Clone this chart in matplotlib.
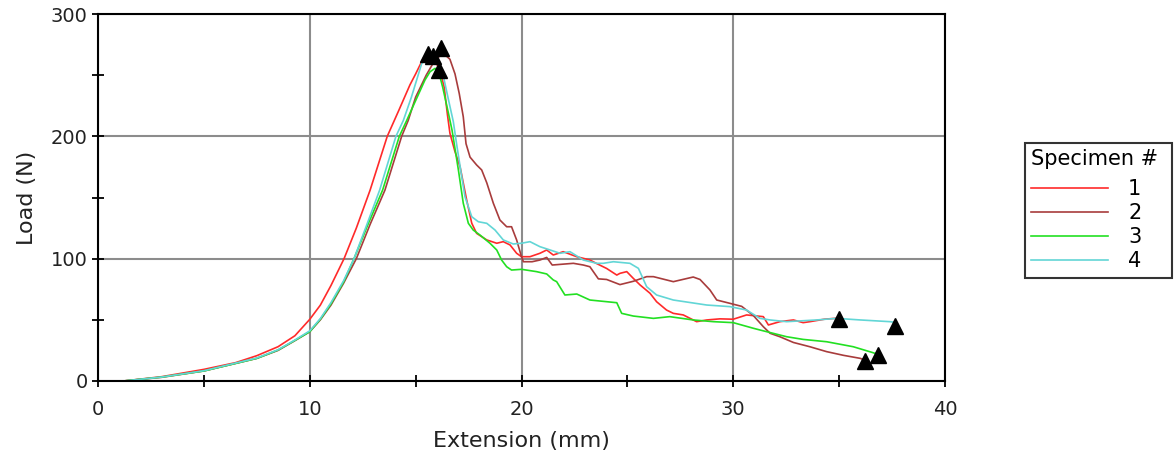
import numpy as np
import matplotlib
matplotlib.use('Agg')
import matplotlib.pyplot as plt
from matplotlib.ticker import MultipleLocator

# load-extension curves per specimen (mm, N)
ext1 = [1.2, 3, 5, 6.5, 7.5, 8.5, 9.3, 10, 10.5, 11, 11.62, 12.2, 12.85, 13.66, 14.2,
        14.73, 15.0, 15.36, 15.59, 15.9, 16.15, 16.35, 16.5, 16.62, 16.85, 17.1, 17.41, 17.65, 17.88,
        18.36, 18.83, 19.14, 19.46, 19.77, 20.0, 20.4, 20.87, 21.19, 21.5, 21.97, 22.61, 23.23, 23.55,
        24.02, 24.5, 24.65, 24.97, 25.28, 25.6, 26.07, 26.38, 26.85, 27.17, 27.64, 28.27, 28.75, 29.37,
        30.0, 30.63, 31.42, 31.66, 32.2, 32.84, 33.3, 33.62, 34.3, 35.0]
load1 = [0, 3.5, 9.5, 15, 20.7, 28, 37, 50.4, 62, 78, 100, 125, 156, 200, 221,
         242, 251, 263.7, 267, 262, 254, 240, 218, 202.5, 188, 175, 148, 129, 120.7,
         115.3, 112.6, 113.9, 111.2, 104.4, 101.6, 101.6, 104.4, 107.1, 103, 105.7, 101.6, 98.9, 96,
         92, 86.6, 88.0, 89.4, 83.9, 78.5, 71.7, 64.8, 58.0, 55.3, 54.0, 48.5, 49.9, 50.8,
         50.5, 54.0, 52.6, 45.8, 48.5, 49.9, 47.7, 48.5, 50.5, 51.5]

ext2 = [1.2, 3, 5, 7.5, 8.5, 9.3, 10, 10.5, 11, 11.6, 12.2, 12.85, 13.55, 14.34, 14.65, 15.0,
        15.5, 15.9, 16.3, 16.62, 16.86, 17.06, 17.25, 17.38, 17.57, 17.88, 18.12, 18.36, 18.67, 18.98,
        19.3, 19.53, 19.77, 20.0, 20.09, 20.5, 20.87, 21.19, 21.45, 22.45, 22.92, 23.23, 23.63, 24.02,
        24.65, 25.28, 25.91, 26.23, 27.17, 28.11, 28.43, 28.9, 29.22, 29.84, 30.4, 30.95, 31.42, 31.74,
        32.2, 32.84, 33.62, 34.41, 35.2, 36.0, 36.22]
load2 = [0, 3.0, 8.2, 18.5, 25, 33, 40.3, 50, 62, 80, 100, 128, 156, 200, 213, 232,
         250, 262, 268, 263, 251, 235, 216, 194, 183, 176.6, 172.5, 162, 145.3, 131.6,
         126.1, 126.1, 115.3, 101.6, 97.5, 97.5, 98.9, 101, 94.8, 96.2, 94.8, 93.4, 83.5, 83,
         78.8, 81.5, 85.3, 85.3, 81.2, 85, 83, 74.4, 66.2, 63.5, 61, 53.5, 44.4, 39.0,
         36.2, 31.5, 28.0, 24.0, 21, 18.5, 17]

ext3 = [1.2, 3, 5, 7.5, 8.5, 9.3, 10, 10.5, 11, 11.6, 12.09, 12.75, 13.44, 14.23, 14.58, 14.89,
        15.44, 15.68, 15.92, 16.1, 16.28, 16.55, 16.72, 17.02, 17.25, 17.49, 17.72, 18.04, 18.51, 18.83,
        19.06, 19.3, 19.53, 20.0, 20.71, 21.19, 21.5, 21.66, 22.05, 22.61, 23.23, 24.5, 24.73, 25.28,
        26.23, 27.0, 28.11, 29.06, 30.0, 30.95, 31.26, 32.52, 33.3, 34.41, 35.67, 36.61, 36.85]
load3 = [0, 3.2, 8.2, 18.5, 25.3, 33.2, 40.3, 50.5, 63, 81, 100, 128, 156, 200, 213, 225,
         246, 252.8, 255.6, 252, 240, 218.8, 205, 172.5, 145.3, 128.9, 123.4, 119.3, 112.6, 107.1,
         98.9, 93.4, 90.7, 91.3, 89.4, 87.5, 82.6, 81.2, 70.3, 71.1, 66.2, 64.0, 55.3, 53.1,
         51.2, 52.6, 49.9, 48.5, 47.7, 43.1, 41.7, 36.2, 34, 32.1, 28.0, 23.1, 21.5]

ext4 = [1.2, 3, 5, 7.5, 8.5, 9.3, 10, 10.5, 11, 11.6, 12.09, 12.7, 13.3, 14.07, 14.42, 14.8,
        15.29, 15.55, 15.82, 16.1, 16.3, 16.55, 16.78, 16.95, 17.15, 17.33, 17.65, 17.96, 18.36, 18.75,
        19.14, 19.61, 20.0, 20.4, 20.87, 21.35, 21.82, 22.29, 22.92, 23.55, 23.86, 24.34, 25.12, 25.52,
        25.91, 26.38, 27.17, 28.75, 29.84, 30.63, 31.26, 31.74, 32.52, 33.94, 34.88, 36.0, 37.4, 37.6]
load4 = [0, 3.2, 8.4, 18.8, 25.5, 33.5, 41, 51, 64, 82, 100, 128, 156, 200, 213, 232,
         259.7, 264, 265.7, 262, 250, 230, 212, 192, 170, 150.7, 134.3, 130.2, 128.9, 123.4,
         115.3, 112, 112.6, 113.9, 109.8, 107.1, 104.4, 105.7, 98.9, 96.2, 96.2, 97.5, 96.2, 92.1,
         77.1, 70.3, 66.2, 62.1, 60.8, 58.0, 51.2, 49.9, 48.5, 49.9, 51.2, 49.9, 48.5, 48]

# peak and break markers
peak_x = [15.59, 16.22, 16.1, 15.82]
peak_y = [267.3, 271.8, 254.2, 265.7]
break_x = [35.0, 36.22, 36.85, 37.64]
break_y = [50.4, 16.3, 21.3, 45.2]

labels = ['1', '2', '3', '4']
colors = ['#ff2a2a', '#a83c3c', '#22e022', '#62d6d6']

fig = plt.figure(figsize=(11.75, 4.67), dpi=100)
ax = fig.add_axes([98 / 1175, 1 - 381 / 467, 847 / 1175, 367 / 467])

curves = [(ext1, load1), (ext2, load2), (ext3, load3), (ext4, load4)]
for (x, y), c, lab in zip(curves, colors, labels):
    ax.plot(x, y, color=c, lw=1.2, label=lab)

ax.plot(peak_x, peak_y, '^', color='black', ms=11, ls='none')
ax.plot(break_x, break_y, '^', color='black', ms=11, ls='none')

ax.set_xlim(0, 40)
ax.set_ylim(0, 300)
ax.xaxis.set_major_locator(MultipleLocator(10))
ax.xaxis.set_minor_locator(MultipleLocator(5))
ax.yaxis.set_major_locator(MultipleLocator(100))
ax.yaxis.set_minor_locator(MultipleLocator(50))
ax.grid(True, which='major', color='#8c8c8c', lw=1.5)
ax.set_axisbelow(True)
ax.tick_params(which='both', direction='inout', length=9, width=1.3, color='black',
               labelsize=14, labelcolor='#222222')
ax.tick_params(axis='x', pad=9)
ax.tick_params(axis='y', pad=3)
for s in ax.spines.values():
    s.set_linewidth(1.5)
    s.set_color('black')

ax.set_xlabel('Extension (mm)', fontsize=16, color='#222222', labelpad=9)
ax.set_ylabel('Load (N)', fontsize=16, color='#222222', labelpad=10)

leg = fig.legend(loc='upper left',
                 bbox_to_anchor=(1025 / 1175, 1 - 143 / 467, 147 / 1175, 0.0),
                 mode='expand', title='Specimen #', fontsize=15, title_fontsize=15,
                 frameon=True, fancybox=False, handlelength=3.7, handletextpad=0.95,
                 labelspacing=0.2, borderpad=0.3, borderaxespad=0)
leg.get_frame().set_edgecolor('black')
leg.get_frame().set_linewidth(1.5)
leg._legend_box.align = 'left'
leg._legend_box.sep = 7  # a bit more room under the title

fig.savefig('out.png', dpi=100)
